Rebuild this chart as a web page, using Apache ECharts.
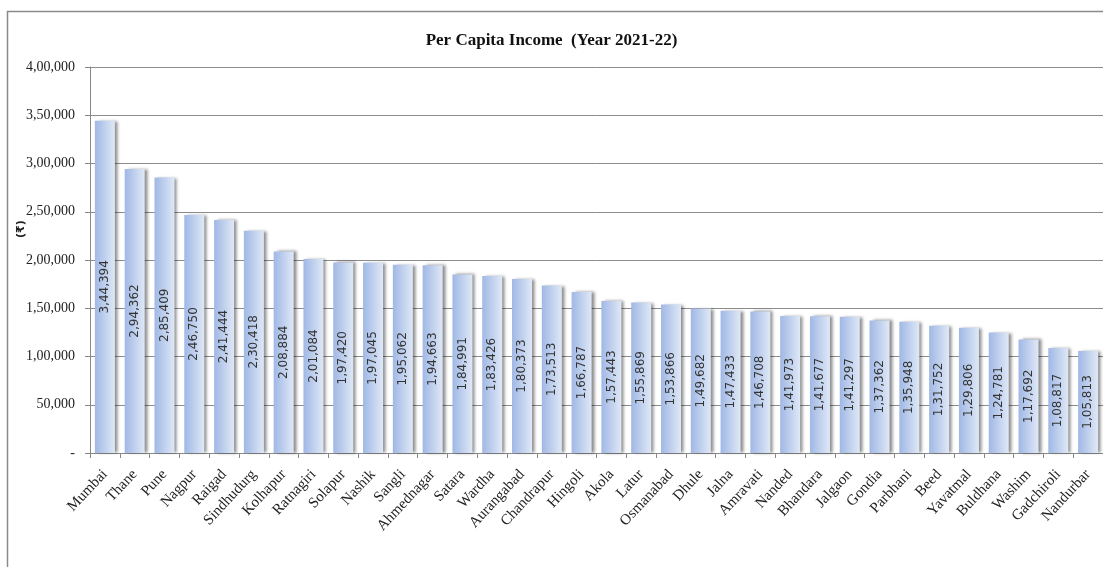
<!DOCTYPE html>
<html>
<head>
<meta charset="utf-8">
<script src="https://cdn.jsdelivr.net/npm/echarts@6/dist/echarts.min.js"></script>
<style>
  html, body { margin: 0; padding: 0; background: #fff; }
  #main { width: 1103px; height: 567px; }
</style>
</head>
<body>
<div id="main"></div>
<script>
// districts, sorted by per capita income (2021-22)
var districts = ['Mumbai', 'Thane', 'Pune', 'Nagpur', 'Raigad', 'Sindhudurg', 'Kolhapur', 'Ratnagiri',
  'Solapur', 'Nashik', 'Sangli', 'Ahmednagar', 'Satara', 'Wardha', 'Aurangabad', 'Chandrapur',
  'Hingoli', 'Akola', 'Latur', 'Osmanabad', 'Dhule', 'Jalna', 'Amravati', 'Nanded', 'Bhandara',
  'Jalgaon', 'Gondia', 'Parbhani', 'Beed', 'Yavatmal', 'Buldhana', 'Washim', 'Gadchiroli', 'Nandurbar'];

var income = [344394, 294362, 285409, 246750, 241444, 230418, 208884, 201084,
  197420, 197045, 195062, 194663, 184991, 183426, 180373, 173513,
  166787, 157443, 155869, 153866, 149682, 147433, 146708, 141973, 141677,
  141297, 137362, 135948, 131752, 129806, 124781, 117692, 108817, 105813];

var yTicks = [0, 50000, 100000, 150000, 200000, 250000, 300000, 350000, 400000];

// indian style grouping: 3,44,394
function inr(v) {
  if (v === 0) return '-';
  var s = String(Math.round(v));
  if (s.length <= 3) return s;
  var last3 = s.slice(-3);
  var rest = s.slice(0, -3);
  rest = rest.replace(/\B(?=(\d{2})+(?!\d))/g, ',');
  return rest + ',' + last3;
}

var chart = echarts.init(document.getElementById('main'));
chart.setOption({
  animation: false,
  backgroundColor: '#fff',
  title: {
    text: 'Per Capita Income  (Year 2021-22)',
    left: 'center',
    top: 27,
    textStyle: {
      fontFamily: 'Liberation Serif',
      fontWeight: 'bold',
      fontSize: 17,
      color: '#111'
    }
  },
  graphic: [
    {
      type: 'rect',
      shape: { x: 7.5, y: 11.5, width: 1200, height: 600 },
      style: { fill: 'none', stroke: '#8a8a8a', lineWidth: 1.5 },
      silent: true
    },
    {
      type: 'text',
      x: 16,
      y: 238,
      rotation: Math.PI / 2,
      style: { text: '(₹)', font: 'bold 11px "DejaVu Sans"', fill: '#222' }
    }
  ],
  grid: { left: 90, right: 0, top: 67, bottom: 114 },
  xAxis: {
    type: 'category',
    data: districts,
    axisLine: { lineStyle: { color: '#888', width: 1 } },
    axisTick: { show: true, length: 5, lineStyle: { color: '#888' } },
    axisLabel: {
      rotate: 47,
      interval: 0,
      margin: 19,
      fontFamily: 'Liberation Serif',
      fontSize: 15,
      color: '#222'
    }
  },
  yAxis: {
    type: 'value',
    min: yTicks[0],
    max: yTicks[yTicks.length - 1],
    interval: 50000,
    axisLine: { show: true, lineStyle: { color: '#888', width: 1 } },
    axisTick: { show: true, length: 5, lineStyle: { color: '#888' } },
    axisLabel: {
      formatter: inr,
      margin: 15,
      fontFamily: 'Liberation Serif',
      fontSize: 14,
      color: '#222'
    },
    splitLine: { lineStyle: { color: '#8c8c8c', width: 1 } }
  },
  series: [
    {
      type: 'bar',
      data: income,
      barWidth: 20,
      itemStyle: {
        color: new echarts.graphic.LinearGradient(0, 0, 1, 0, [
          { offset: 0, color: '#a0b8e5' },
          { offset: 1, color: '#dfe8f6' }
        ]),
        shadowColor: 'rgba(0,0,0,0.45)',
        shadowBlur: 3,
        shadowOffsetX: 3,
        shadowOffsetY: 0
      },
      label: {
        show: true,
        position: 'inside',
        rotate: 90,
        formatter: function (p) { return inr(p.value); },
        fontFamily: 'DejaVu Sans',
        fontSize: 12,
        color: '#333'
      }
    }
  ]
});
</script>
</body>
</html>
